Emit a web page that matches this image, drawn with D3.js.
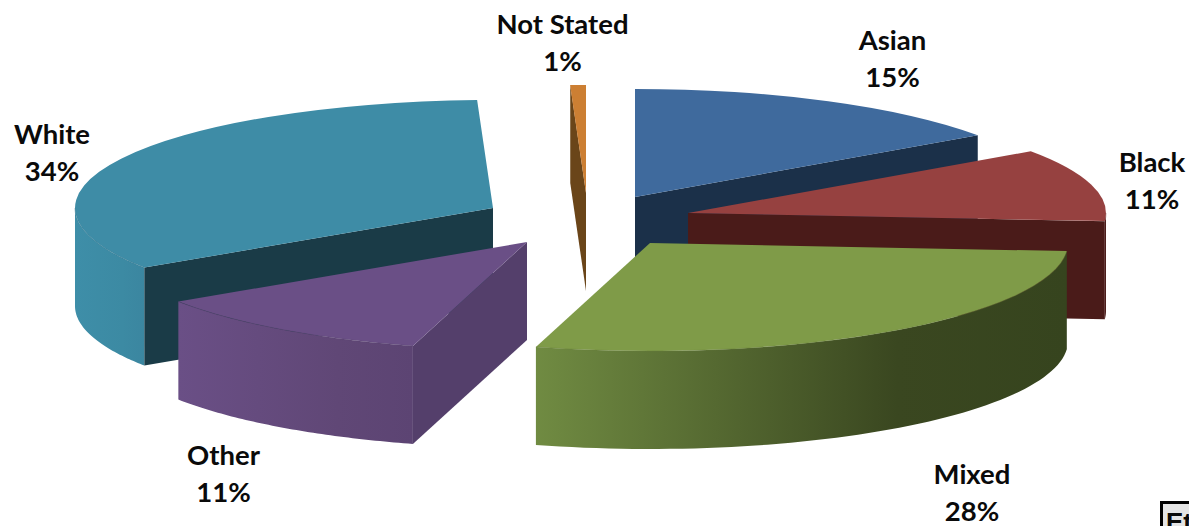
<!DOCTYPE html>
<html><head><meta charset="utf-8">
<script src="https://cdnjs.cloudflare.com/ajax/libs/d3/7.8.5/d3.min.js"></script>
<style>html,body{margin:0;padding:0;background:#fff;overflow:hidden}svg{display:block}text{font-family:Lato,sans-serif;font-weight:700;fill:#0a0a0a}</style>
</head><body><svg id="c" width="1189" height="526"></svg>
<script>
// Data
const categories = ["Asian","Black","Mixed","Other","White","Not Stated"];
const values = [15.3, 10.9, 28.2, 11.3, 33.7, 0.6];
// Layout / style (separate from data)
const apexX = [635, 688, 650, 527, 493, 586];
const apexY = [197, 213, 243, 242, 208, 193];
const labelX = [892.5, 1152, 972, 223.5, 52, 562.5];
const labelY = [50, 172, 484, 465, 144, 34];
const topCol = ["#3f6a9d","#964140","#7f9b48","#6a4f86","#3e8ca6","#cc7f33"];
const cutCol = ["#1b3049","#4a1b19","#3a4a20","#543f6b","#1a3b47","#6a4519"];
const wallL  = ["#3f6a9d","#5a2220","#708b42","#6a4f86","#3e8ea8","#cc7f33"];
const wallM  = ["#3f6a9d","#4a1b19","#3a4720","#604776","#3c8aa3","#cc7f33"];
const wallR  = ["#3f6a9d","#4a1b19","#36441e","#5c4473","#3b86a0","#cc7f33"];
const drawOrder = [0,4,5,1,3,2];
const RX = 418, RY = 108, DEPTH = 98;

const svg = d3.select("#c");
const pie = d3.pie().sort(null).value(d=>d)(values);
const defs = svg.append("defs");
const line = d3.line();
const rim = (i,a,dz=0)=>[apexX[i]+RX*Math.sin(a), apexY[i]-RY*Math.cos(a)+dz];

drawOrder.forEach(i=>{
  const p = pie[i], g = svg.append("g").attr("class","slice");
  const s = p.startAngle, e = p.endAngle;
  const ax = apexX[i], ay = apexY[i];
  // outer wall (front half only)
  const ws = Math.max(s, Math.PI/2), we = Math.min(e, Math.PI*1.5);
  if (we > ws) {
    const xs = [rim(i,ws)[0], rim(i,we)[0]];
    const grad = defs.append("linearGradient").attr("id","w"+i)
      .attr("gradientUnits","userSpaceOnUse")
      .attr("x1",d3.min(xs)).attr("x2",d3.max(xs)).attr("y1",0).attr("y2",0);
    grad.append("stop").attr("offset",0).attr("stop-color",wallL[i]);
    grad.append("stop").attr("offset",0.68).attr("stop-color",wallM[i]);
    grad.append("stop").attr("offset",1).attr("stop-color",wallR[i]);
    const angs = d3.range(0,61).map(k=>ws+(we-ws)*k/60);
    const pts = angs.map(a=>rim(i,a)).concat(angs.slice().reverse().map(a=>rim(i,a,DEPTH)));
    g.append("path").attr("d",line(pts)+"Z").attr("fill",`url(#w${i})`);
  }
  // radial cut faces
  const face = a => [[ax,ay],rim(i,a),rim(i,a,DEPTH),[ax,ay+DEPTH]];
  if (Math.sin(s) < -1e-6) g.append("path").attr("d",line(face(s))+"Z").attr("fill",cutCol[i]);
  if (Math.sin(e) > 1e-6) g.append("path").attr("d",line(face(e))+"Z").attr("fill",cutCol[i]);
  // top face
  g.append("path")
    .attr("transform",`translate(${ax},${ay}) scale(${RX},${RY})`)
    .attr("d",d3.arc().innerRadius(0).outerRadius(1)({startAngle:s,endAngle:e}))
    .attr("fill",topCol[i]);
  // faint seam along front rim
  if (we > ws) {
    const angs = d3.range(0,61).map(k=>ws+(we-ws)*k/60);
    g.append("path").attr("d",line(angs.map(a=>rim(i,a)))).attr("fill","none")
     .attr("stroke",d3.color(topCol[i]).darker(0.6)).attr("stroke-width",0.8).attr("opacity",0.5);
  }
});

// Labels
categories.forEach((c,i)=>{
  const t = svg.append("text").attr("text-anchor","middle").attr("font-size",27.5);
  t.append("tspan").attr("x",labelX[i]).attr("y",labelY[i]).text(c);
  t.append("tspan").attr("x",labelX[i]).attr("y",labelY[i]+37).text(Math.round(values[i])+"%");
});

// Clipped box at bottom-right corner
svg.append("rect").attr("x",1161.5).attr("y",502.5).attr("width",40).attr("height",40)
  .attr("fill","#e4e4e4").attr("stroke","#000").attr("stroke-width",3);
svg.append("text").attr("x",1166).attr("y",531).attr("font-size",26)
  .style("font-family","'Liberation Sans',sans-serif").text("Et");
</script></body></html>
